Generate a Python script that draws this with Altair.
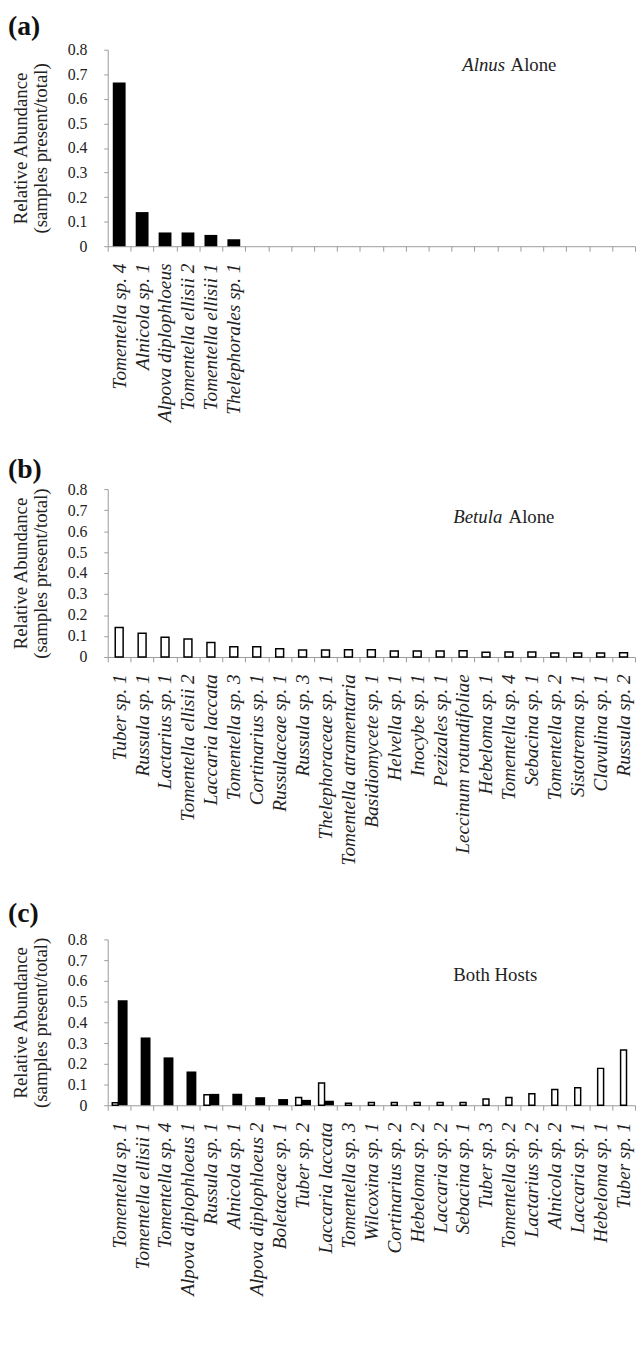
import altair as alt
import pandas as pd

FONT = "Liberation Serif, Times New Roman, Times, DejaVu Serif, serif"

y_ticks = [0, 0.1, 0.2, 0.3, 0.4, 0.5, 0.6, 0.7, 0.8]
y_title = ["Relative Abundance", "(samples present/total)"]
panel_labels = ["(a)", "(b)", "(c)"]

# Panel (a): Alnus alone
a_species = ["Tomentella sp. 4", "Alnicola sp. 1", "Alpova diplophloeus",
             "Tomentella ellisii 2", "Tomentella ellisii 1", "Thelephorales sp. 1"]
a_values = [0.667, 0.139, 0.056, 0.056, 0.046, 0.028]
a_empty_slots = [" " * k for k in range(1, 18)]   # unlabeled category slots

# Panel (b): Betula alone
b_species = ["Tuber sp. 1", "Russula sp. 1", "Lactarius sp. 1", "Tomentella ellisii 2",
             "Laccaria laccata", "Tomentella sp. 3", "Cortinarius sp. 1", "Russulaceae sp. 1",
             "Russula sp. 3", "Thelephoraceae sp. 1", "Tomentella atramentaria",
             "Basidiomycete sp. 1", "Helvella sp. 1", "Inocybe sp. 1", "Pezizales sp. 1",
             "Leccinum rotundifoliae", "Hebeloma sp. 1", "Tomentella sp. 4", "Sebacina sp. 1",
             "Tomentella sp. 2", "Sistotrema sp. 1", "Clavulina sp. 1", "Russula sp. 2"]
b_values = [0.14, 0.113, 0.094, 0.086, 0.069, 0.049, 0.049, 0.039, 0.033, 0.033, 0.034,
            0.035, 0.028, 0.029, 0.029, 0.030, 0.023, 0.024, 0.024, 0.019, 0.019, 0.019, 0.02]

# Panel (c): both hosts
c_species = ["Tomentella sp. 1", "Tomentella ellisii 1", "Tomentella sp. 4",
             "Alpova diplophloeus 1", "Russula sp. 1", "Alnicola sp. 1",
             "Alpova diplophloeus 2", "Boletaceae sp. 1", "Tuber sp. 2", "Laccaria laccata",
             "Tomentella sp. 3", "Wilcoxina sp. 1", "Cortinarius sp. 2", "Hebeloma sp. 2",
             "Laccaria sp. 2", "Sebacina sp. 1", "Tuber sp. 3", "Tomentella sp. 2",
             "Lactarius sp. 2", "Alnicola sp. 2", "Laccaria sp. 1", "Hebeloma sp. 1",
             "Tuber sp. 1"]
c_alnus = [0.507, 0.327, 0.231, 0.163, 0.055, 0.055, 0.039, 0.03, 0.026, 0.022,
           0, 0, 0, 0, 0, 0, 0, 0, 0, 0, 0, 0, 0]
c_betula = [0.012, 0, 0, 0, 0.051, 0, 0, 0, 0.037, 0.107,
            0.01, 0.013, 0.013, 0.013, 0.013, 0.013, 0.03, 0.038, 0.056, 0.076,
            0.085, 0.178, 0.267]

a_note = ["Alnus", "Alone"]
b_note = ["Betula", "Alone"]
c_note = ["Both Hosts"]

W = 534
AXIS_GREY = "#9a9a9a"
TEXT = "#222222"


def x_enc(domain):
    return alt.X(
        "species:N",
        scale=alt.Scale(domain=domain, paddingInner=0, paddingOuter=0),
        axis=alt.Axis(title=None, labelAngle=270, labelFont=FONT, labelFontStyle="italic",
                      labelFontSize=19.5, labelColor=TEXT, labelPadding=12, labelLimit=400,
                      labelOverlap=False, tickBand="extent", tickSize=5, tickColor=AXIS_GREY,
                      domainColor=AXIS_GREY, tickWidth=1, domainWidth=1),
    )


def y_enc():
    return alt.Y(
        "value:Q",
        scale=alt.Scale(domain=[0, 0.8], nice=False, zero=True),
        axis=alt.Axis(values=y_ticks, format=".1~f", title=y_title, labelFont=FONT,
                      labelFontSize=16, labelColor=TEXT, labelPadding=17, tickSize=4,
                      tickColor=AXIS_GREY, domainColor=AXIS_GREY, grid=False,
                      titleFont=FONT, titleFontSize=19, titleFontWeight="normal",
                      titleColor=TEXT, titleLineHeight=20, titleAngle=270,
                      titleX=-88, titleBaseline="middle", titleAlign="center"),
    )


def panel_label(t, y0):
    df = pd.DataFrame({"t": [t]})
    return alt.Chart(df).mark_text(font=FONT, fontSize=28, fontWeight="bold", align="left",
                                   baseline="alphabetic", color="#111111").encode(
        text="t:N", x=alt.value(-101), y=alt.value(y0))


def note(words, x0, y0, italic_first=True, gap=5, first_width=0):
    layers = []
    df1 = pd.DataFrame({"t": [words[0]]})
    layers.append(alt.Chart(df1).mark_text(font=FONT, fontSize=19, align="left",
                                           baseline="alphabetic", color=TEXT,
                                           fontStyle="italic" if italic_first else "normal")
                  .encode(text="t:N", x=alt.value(x0), y=alt.value(y0)))
    if len(words) > 1:
        df2 = pd.DataFrame({"t": [words[1]]})
        layers.append(alt.Chart(df2).mark_text(font=FONT, fontSize=19, align="left",
                                               baseline="alphabetic", color=TEXT)
                      .encode(text="t:N", x=alt.value(x0 + first_width + gap), y=alt.value(y0)))
    return layers


# ---- Panel a
a_domain = a_species + a_empty_slots
df_a = pd.DataFrame({"species": a_species, "value": a_values})
bars_a = alt.Chart(df_a).mark_bar(color="black", width=13).encode(x=x_enc(a_domain), y=y_enc())
panel_a = alt.layer(bars_a, *note(a_note, 359, 22, first_width=44),
                    panel_label(panel_labels[0], -15)).properties(width=W, height=199)

# ---- Panel b
df_b = pd.DataFrame({"species": b_species, "value": b_values})
bars_b = alt.Chart(df_b).mark_bar(color="white", stroke="black", strokeWidth=1.5, width=8).encode(
    x=x_enc(b_species), y=y_enc())
panel_b = alt.layer(bars_b, *note(b_note, 350, 34, first_width=51),
                    panel_label(panel_labels[1], -11)).properties(width=W, height=170)

# ---- Panel c
df_c = pd.DataFrame({"species": c_species, "alnus": c_alnus, "betula": c_betula})
df_cb_shared = df_c[(df_c["betula"] > 0) & (df_c["alnus"] > 0)].rename(columns={"betula": "value"})
df_cb_only = df_c[(df_c["betula"] > 0) & (df_c["alnus"] == 0)].rename(columns={"betula": "value"})
df_ca = df_c[df_c["alnus"] > 0].rename(columns={"alnus": "value"})

bars_cb_shared = alt.Chart(df_cb_shared).mark_bar(
    color="white", stroke="black", strokeWidth=1.5, width=6, xOffset=-4).encode(
    x=x_enc(c_species), y=y_enc())
bars_cb_only = alt.Chart(df_cb_only).mark_bar(
    color="white", stroke="black", strokeWidth=1.5, width=6).encode(
    x=x_enc(c_species), y=y_enc())
bars_ca = alt.Chart(df_ca).mark_bar(color="black", width=10, xOffset=3.5).encode(
    x=x_enc(c_species), y=y_enc())
panel_c = alt.layer(bars_cb_shared, bars_cb_only, bars_ca,
                    *note(c_note, 350, 42, italic_first=False),
                    panel_label(panel_labels[2], -18)).properties(width=W, height=168)

chart = alt.vconcat(panel_a, panel_b, panel_c, spacing=35).properties(
    padding={"left": 0, "top": -3, "right": 0, "bottom": 0}
).configure(font=FONT, view=alt.ViewConfig(stroke=None))

chart.save("out.html", embed_options={"renderer": "svg", "actions": False})
